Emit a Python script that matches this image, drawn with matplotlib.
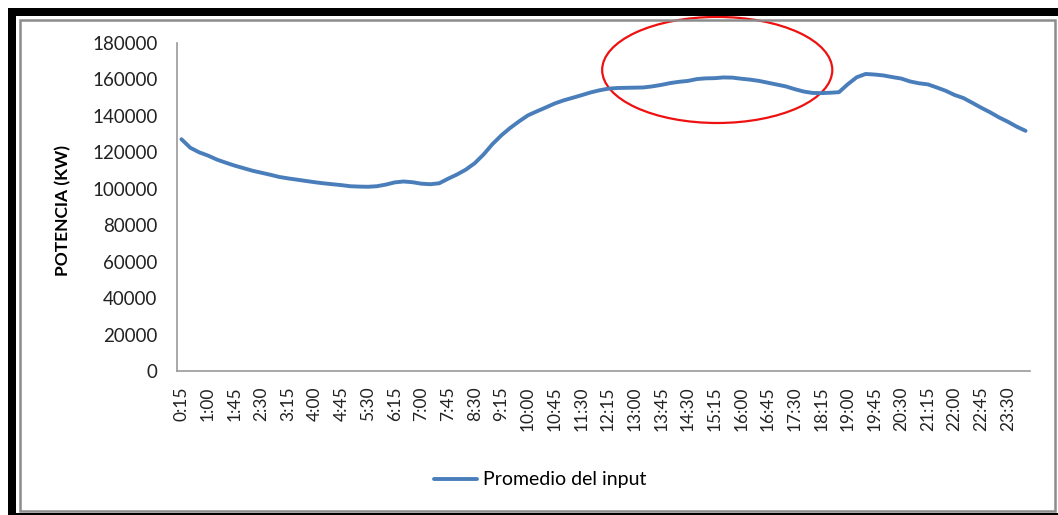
import matplotlib.pyplot as plt
from matplotlib.patches import Ellipse, Rectangle

# 15-minute averages, 0:15 ... 24:00 (96 values)
potencia = [
    127200, 122500, 120000, 118200, 116000, 114300, 112700, 111300,
    109900, 108800, 107700, 106500, 105700, 105000, 104300, 103600,
    103000, 102500, 102000, 101400, 101200, 101100, 101400, 102300,
    103500, 104000, 103600, 102800, 102500, 103000, 105500, 107800,
    110500, 114000, 118800, 124500, 129300, 133400, 137000, 140300,
    142500, 144600, 146800, 148500, 149900, 151300, 152800, 154000,
    154900, 155300, 155400, 155500, 155600, 156200, 157000, 158000,
    158700, 159200, 160200, 160600, 160700, 161100, 161000, 160400,
    159900, 159200, 158200, 157200, 156200, 154700, 153400, 152600,
    152500, 152700, 153000, 157400, 161200, 163000, 162700, 162200,
    161300, 160500, 158900, 157900, 157300, 155600, 153800, 151500,
    149800, 147200, 144500, 142000, 139200, 136800, 134100, 131800,
]
minutes = [15 * (i + 1) for i in range(len(potencia))]
horas = [f"{m // 60}:{m % 60:02d}" for m in minutes]
y_ticks = list(range(0, 180001, 20000))

W, H = 1058, 515
fig = plt.figure(figsize=(W / 100, H / 100), dpi=100)
plt.rcParams['font.family'] = ['Lato', 'DejaVu Sans']

def fx(x):
    return x / W

def fy(y):
    return 1 - y / H

ax = fig.add_axes([fx(177), fy(371), fx(1030) - fx(177), fy(43) - fy(371)])

x = list(range(len(potencia)))
ax.plot(x, potencia, color='#4A7EBB', lw=2.8, solid_capstyle='round',
        label='Promedio del input')

ax.set_xlim(-0.5, len(potencia) - 0.5)
ax.set_ylim(0, 180000)
ax.set_yticks(y_ticks)
ax.set_yticklabels([str(v) for v in y_ticks], fontsize=13.5, color='#222222')
ax.set_xticks(x[::3])
ax.set_xticklabels(horas[::3], rotation=90, fontsize=12.5, color='#222222')
ax.tick_params(axis='y', length=0, pad=14)
ax.tick_params(axis='x', length=0, pad=11)

for s in ['top', 'right']:
    ax.spines[s].set_visible(False)
for s in ['left', 'bottom']:
    ax.spines[s].set_color('#999999')
    ax.spines[s].set_linewidth(1.2)

ax.set_ylabel('POTENCIA (KW)', fontsize=12.5, fontweight='bold')
ax.yaxis.set_label_coords((71 - 177) / 853, 0.49)

# red highlight ellipse around the afternoon plateau
ax.add_patch(Ellipse((60.3, 165200), 25.9, 58200, fill=False,
                     edgecolor='#EE1111', lw=1.6, clip_on=False))

fig.legend(loc='center', bbox_to_anchor=(fx(540), fy(480)), frameon=False,
           fontsize=14, handlelength=2.2, handletextpad=0.3)

# frame: thick black bars on left/top/bottom, thin grey inner box
tf = fig.transFigure
fig.add_artist(Rectangle((fx(8), fy(515)), fx(8), fy(8) - fy(515),
                         transform=tf, color='black', lw=0))
fig.add_artist(Rectangle((fx(8), fy(16)), fx(1058) - fx(8), fy(8) - fy(16),
                         transform=tf, color='black', lw=0))
fig.add_artist(Rectangle((fx(8), fy(515)), fx(1058) - fx(8), fy(513) - fy(515),
                         transform=tf, color='black', lw=0))
fig.add_artist(Rectangle((fx(20), fy(511)), fx(1055) - fx(20), fy(20) - fy(511),
                         transform=tf, fill=False, edgecolor='#8c8c8c', lw=1.8))

fig.savefig('out.png', dpi=100)
